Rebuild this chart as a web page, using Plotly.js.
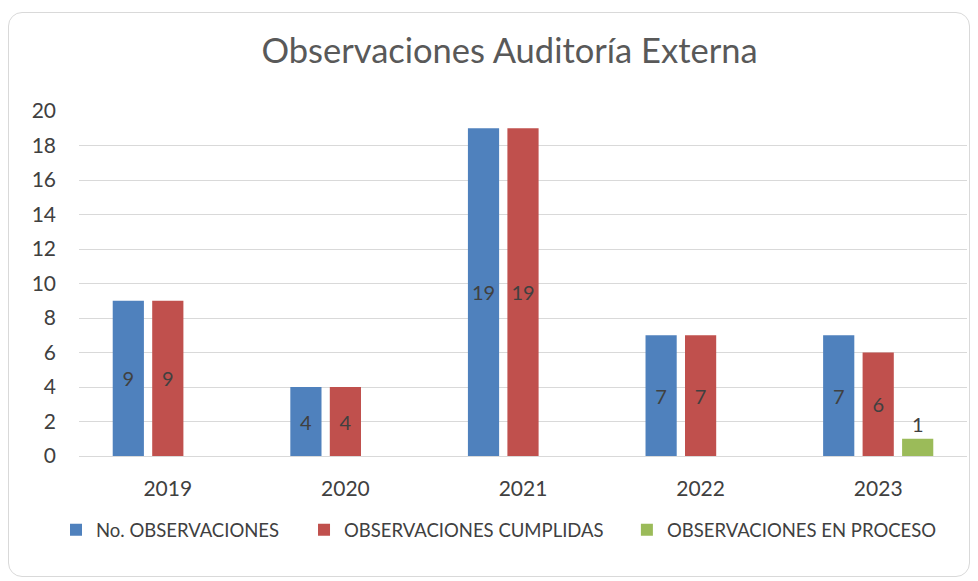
<!DOCTYPE html>
<html><head><meta charset="utf-8">
<script src="https://cdn.plot.ly/plotly-3.0.1.min.js"></script>
<style>
html,body{margin:0;padding:0;background:#fff;}
#wrap{position:relative;width:978px;height:581px;}
#frame{position:absolute;left:8px;top:12px;width:962px;height:565px;border:1px solid #d9d9d9;border-radius:14px;box-sizing:border-box;}
#chart{position:absolute;left:0;top:0;width:978px;height:581px;}
</style></head>
<body><div id="wrap"><div id="frame"></div><div id="chart"></div></div>
<script>
const years = ['2019','2020','2021','2022','2023'];
const totalObs = [9,4,19,7,7];
const cumplidas = [9,4,19,7,6];
const enProceso = [null,null,null,null,1];
const seriesNames = ['No. OBSERVACIONES','OBSERVACIONES CUMPLIDAS','OBSERVACIONES EN PROCESO'];
const colors = ['#4f81bd','#c0504d','#9bbb59'];
const fontFam = 'Lato, "Open Sans", sans-serif';
const txtColor = '#404040';

function lbl(arr){return arr.map(v => v==null ? '' : String(v));}

const traces = [
  {type:'bar', x:years, y:totalObs, name:seriesNames[0], marker:{color:colors[0]}, legend:'legend',
   text:lbl(totalObs), textposition:'inside', insidetextanchor:'middle', textangle:0,
   textfont:{family:fontFam,size:20,color:txtColor}},
  {type:'bar', x:years, y:cumplidas, name:seriesNames[1], marker:{color:colors[1]}, legend:'legend2',
   text:lbl(cumplidas), textposition:'inside', insidetextanchor:'middle', textangle:0,
   textfont:{family:fontFam,size:20,color:txtColor}},
  {type:'bar', x:years, y:enProceso, name:seriesNames[2], marker:{color:colors[2]}, legend:'legend3',
   text:lbl(enProceso), textposition:'outside', textangle:0, cliponaxis:false,
   textfont:{family:fontFam,size:20,color:txtColor}}
];

function leg(x){
  return {orientation:'h', x:x, xanchor:'left', y:-0.215, yanchor:'middle',
          font:{family:fontFam,size:18.5,color:txtColor}, itemwidth:30, bgcolor:'rgba(0,0,0,0)'};
}

const layout = {
  width:978, height:581,
  paper_bgcolor:'rgba(0,0,0,0)', plot_bgcolor:'rgba(0,0,0,0)',
  margin:{l:79, r:11, t:111, b:125},
  title:{text:'Observaciones Auditoría Externa', x:0.521, xanchor:'center', y:0.913, yanchor:'middle',
         font:{family:fontFam, size:34.5, color:'#595959'}},
  barmode:'group', bargap:0.333, bargroupgap:0.21,
  uniformtext:{mode:'show', minsize:10},
  xaxis:{type:'category', tickfont:{family:fontFam,size:21,color:txtColor}, showgrid:false,
         showline:true, linecolor:'#d9d9d9', linewidth:1, ticks:'', ticklen:0, ticklabelstandoff:14, fixedrange:true},
  yaxis:{range:[0,20], dtick:2, tick0:0, tickfont:{family:fontFam,size:21,color:txtColor},
         gridcolor:'#d9d9d9', gridwidth:1, zeroline:false, showline:false, ticks:'', ticklabelstandoff:22, fixedrange:true},
  showlegend:true,
  legend:leg(-0.0259),
  legend2:leg(0.2534),
  legend3:leg(0.617),
  font:{family:fontFam, color:txtColor}
};

Plotly.newPlot('chart', traces, layout, {displayModeBar:false, staticPlot:true});
</script></body></html>
